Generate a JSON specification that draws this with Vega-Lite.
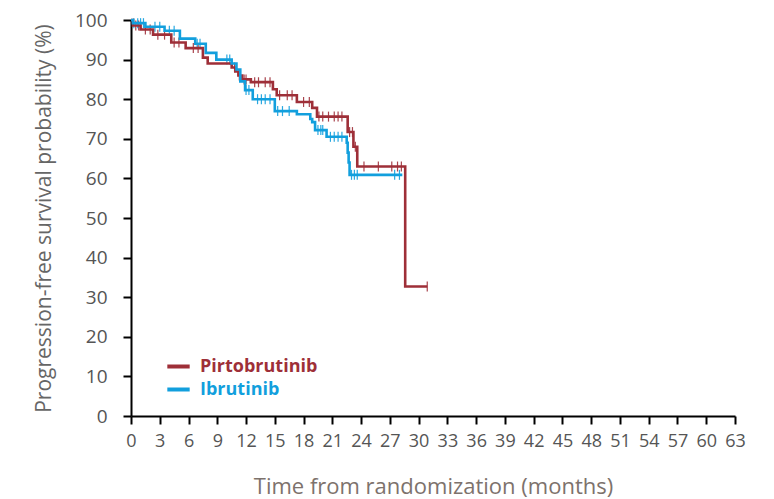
{
  "$schema": "https://vega.github.io/schema/vega-lite/v6.json",
  "width": 604,
  "height": 396,
  "autosize": "none",
  "padding": {"left": 131, "top": 20, "right": 39, "bottom": 83},
  "background": "white",
  "config": {
    "view": {"stroke": null},
    "font": "Open Sans",
    "axis": {"grid": false, "domainColor": "#000", "domainWidth": 2, "tickColor": "#000", "tickWidth": 2, "tickSize": 8, "labelColor": "#555", "labelFont": "Open Sans", "titleFont": "Open Sans", "titleFontWeight": "normal"}
  },
  "datasets": {
    "curves": [
      {"t": 0, "s": 100, "g": "Pirtobrutinib"},
      {"t": 0.2, "s": 98.6, "g": "Pirtobrutinib"},
      {"t": 1.0, "s": 97.6, "g": "Pirtobrutinib"},
      {"t": 2.3, "s": 96.3, "g": "Pirtobrutinib"},
      {"t": 4.2, "s": 94.3, "g": "Pirtobrutinib"},
      {"t": 5.7, "s": 92.9, "g": "Pirtobrutinib"},
      {"t": 7.5, "s": 90.5, "g": "Pirtobrutinib"},
      {"t": 8.0, "s": 89.0, "g": "Pirtobrutinib"},
      {"t": 10.5, "s": 88.0, "g": "Pirtobrutinib"},
      {"t": 10.9, "s": 87.0, "g": "Pirtobrutinib"},
      {"t": 11.2, "s": 86.0, "g": "Pirtobrutinib"},
      {"t": 11.6, "s": 85.0, "g": "Pirtobrutinib"},
      {"t": 12.5, "s": 84.3, "g": "Pirtobrutinib"},
      {"t": 14.8, "s": 82.5, "g": "Pirtobrutinib"},
      {"t": 15.2, "s": 81.0, "g": "Pirtobrutinib"},
      {"t": 17.3, "s": 79.3, "g": "Pirtobrutinib"},
      {"t": 18.9, "s": 77.8, "g": "Pirtobrutinib"},
      {"t": 19.4, "s": 75.6, "g": "Pirtobrutinib"},
      {"t": 22.6, "s": 71.7, "g": "Pirtobrutinib"},
      {"t": 23.2, "s": 68.0, "g": "Pirtobrutinib"},
      {"t": 23.6, "s": 63.0, "g": "Pirtobrutinib"},
      {"t": 28.6, "s": 32.7, "g": "Pirtobrutinib"},
      {"t": 30.9, "s": 32.7, "g": "Pirtobrutinib"},
      {"t": 0, "s": 100, "g": "Ibrutinib"},
      {"t": 0.2, "s": 99.2, "g": "Ibrutinib"},
      {"t": 1.5, "s": 98.3, "g": "Ibrutinib"},
      {"t": 3.5, "s": 97.3, "g": "Ibrutinib"},
      {"t": 5.1, "s": 95.3, "g": "Ibrutinib"},
      {"t": 6.7, "s": 94.0, "g": "Ibrutinib"},
      {"t": 7.8, "s": 91.7, "g": "Ibrutinib"},
      {"t": 8.9, "s": 90.0, "g": "Ibrutinib"},
      {"t": 10.5, "s": 89.0, "g": "Ibrutinib"},
      {"t": 11.0, "s": 87.5, "g": "Ibrutinib"},
      {"t": 11.4, "s": 84.5, "g": "Ibrutinib"},
      {"t": 11.9, "s": 82.3, "g": "Ibrutinib"},
      {"t": 12.7, "s": 80.0, "g": "Ibrutinib"},
      {"t": 15.0, "s": 77.0, "g": "Ibrutinib"},
      {"t": 17.3, "s": 76.2, "g": "Ibrutinib"},
      {"t": 18.7, "s": 75.0, "g": "Ibrutinib"},
      {"t": 18.9, "s": 74.2, "g": "Ibrutinib"},
      {"t": 19.2, "s": 72.2, "g": "Ibrutinib"},
      {"t": 20.4, "s": 70.5, "g": "Ibrutinib"},
      {"t": 22.5, "s": 69.0, "g": "Ibrutinib"},
      {"t": 22.6, "s": 66.5, "g": "Ibrutinib"},
      {"t": 22.7, "s": 64.0, "g": "Ibrutinib"},
      {"t": 22.8, "s": 60.9, "g": "Ibrutinib"},
      {"t": 28.3, "s": 60.9, "g": "Ibrutinib"}
    ],
    "censors": [
      {"t": 0.5, "s": 98.6, "g": "Pirtobrutinib"},
      {"t": 0.8, "s": 98.6, "g": "Pirtobrutinib"},
      {"t": 1.5, "s": 97.6, "g": "Pirtobrutinib"},
      {"t": 2.0, "s": 97.6, "g": "Pirtobrutinib"},
      {"t": 2.8, "s": 96.3, "g": "Pirtobrutinib"},
      {"t": 3.5, "s": 96.3, "g": "Pirtobrutinib"},
      {"t": 4.5, "s": 94.3, "g": "Pirtobrutinib"},
      {"t": 5.0, "s": 94.3, "g": "Pirtobrutinib"},
      {"t": 6.5, "s": 92.9, "g": "Pirtobrutinib"},
      {"t": 7.0, "s": 92.9, "g": "Pirtobrutinib"},
      {"t": 10.8, "s": 88.0, "g": "Pirtobrutinib"},
      {"t": 11.3, "s": 86.0, "g": "Pirtobrutinib"},
      {"t": 11.8, "s": 85.0, "g": "Pirtobrutinib"},
      {"t": 12.0, "s": 85.0, "g": "Pirtobrutinib"},
      {"t": 12.9, "s": 84.3, "g": "Pirtobrutinib"},
      {"t": 13.3, "s": 84.3, "g": "Pirtobrutinib"},
      {"t": 14.0, "s": 84.3, "g": "Pirtobrutinib"},
      {"t": 14.5, "s": 84.3, "g": "Pirtobrutinib"},
      {"t": 15.5, "s": 81.0, "g": "Pirtobrutinib"},
      {"t": 16.3, "s": 81.0, "g": "Pirtobrutinib"},
      {"t": 16.8, "s": 81.0, "g": "Pirtobrutinib"},
      {"t": 18.0, "s": 79.3, "g": "Pirtobrutinib"},
      {"t": 18.6, "s": 79.3, "g": "Pirtobrutinib"},
      {"t": 19.6, "s": 75.6, "g": "Pirtobrutinib"},
      {"t": 20.0, "s": 75.6, "g": "Pirtobrutinib"},
      {"t": 20.6, "s": 75.6, "g": "Pirtobrutinib"},
      {"t": 21.2, "s": 75.6, "g": "Pirtobrutinib"},
      {"t": 21.6, "s": 75.6, "g": "Pirtobrutinib"},
      {"t": 22.0, "s": 75.6, "g": "Pirtobrutinib"},
      {"t": 22.8, "s": 71.7, "g": "Pirtobrutinib"},
      {"t": 23.1, "s": 71.7, "g": "Pirtobrutinib"},
      {"t": 23.4, "s": 68.0, "g": "Pirtobrutinib"},
      {"t": 24.3, "s": 63.0, "g": "Pirtobrutinib"},
      {"t": 25.8, "s": 63.0, "g": "Pirtobrutinib"},
      {"t": 27.2, "s": 63.0, "g": "Pirtobrutinib"},
      {"t": 27.8, "s": 63.0, "g": "Pirtobrutinib"},
      {"t": 28.2, "s": 63.0, "g": "Pirtobrutinib"},
      {"t": 30.9, "s": 32.7, "g": "Pirtobrutinib"},
      {"t": 0.3, "s": 99.2, "g": "Ibrutinib"},
      {"t": 0.7, "s": 99.2, "g": "Ibrutinib"},
      {"t": 1.0, "s": 99.2, "g": "Ibrutinib"},
      {"t": 1.3, "s": 99.2, "g": "Ibrutinib"},
      {"t": 2.5, "s": 98.3, "g": "Ibrutinib"},
      {"t": 3.0, "s": 98.3, "g": "Ibrutinib"},
      {"t": 4.0, "s": 97.3, "g": "Ibrutinib"},
      {"t": 4.5, "s": 97.3, "g": "Ibrutinib"},
      {"t": 6.9, "s": 94.0, "g": "Ibrutinib"},
      {"t": 7.2, "s": 94.0, "g": "Ibrutinib"},
      {"t": 10.0, "s": 90.0, "g": "Ibrutinib"},
      {"t": 10.3, "s": 90.0, "g": "Ibrutinib"},
      {"t": 12.0, "s": 82.3, "g": "Ibrutinib"},
      {"t": 12.3, "s": 82.3, "g": "Ibrutinib"},
      {"t": 13.2, "s": 80.0, "g": "Ibrutinib"},
      {"t": 13.6, "s": 80.0, "g": "Ibrutinib"},
      {"t": 14.0, "s": 80.0, "g": "Ibrutinib"},
      {"t": 14.5, "s": 80.0, "g": "Ibrutinib"},
      {"t": 15.3, "s": 77.0, "g": "Ibrutinib"},
      {"t": 15.8, "s": 77.0, "g": "Ibrutinib"},
      {"t": 16.5, "s": 77.0, "g": "Ibrutinib"},
      {"t": 19.5, "s": 72.2, "g": "Ibrutinib"},
      {"t": 19.8, "s": 72.2, "g": "Ibrutinib"},
      {"t": 20.0, "s": 72.2, "g": "Ibrutinib"},
      {"t": 20.8, "s": 70.5, "g": "Ibrutinib"},
      {"t": 21.2, "s": 70.5, "g": "Ibrutinib"},
      {"t": 21.6, "s": 70.5, "g": "Ibrutinib"},
      {"t": 22.0, "s": 70.5, "g": "Ibrutinib"},
      {"t": 23.0, "s": 60.9, "g": "Ibrutinib"},
      {"t": 23.3, "s": 60.9, "g": "Ibrutinib"},
      {"t": 23.6, "s": 60.9, "g": "Ibrutinib"},
      {"t": 27.5, "s": 60.9, "g": "Ibrutinib"},
      {"t": 28.0, "s": 60.9, "g": "Ibrutinib"}
    ]
  },
  "encoding": {
    "x": {"field": "t", "type": "quantitative", "scale": {"domain": [0, 63], "nice": false},
      "axis": {"values": [0,3,6,9,12,15,18,21,24,27,30,33,36,39,42,45,48,51,54,57,60,63], "labelOverlap": false, "labelFontSize": 18, "labelPadding": 8, "labelFlush": false,
        "title": "Time from randomization (months)", "titleFontSize": 22, "titleColor": "#7d726c", "titlePadding": 26}},
    "y": {"field": "s", "type": "quantitative", "scale": {"domain": [0, 100], "nice": false},
      "axis": {"values": [0,10,20,30,40,50,60,70,80,90,100], "labelFontSize": 19, "labelPadding": 16,
        "title": "Progression-free survival probability (%)", "titleFontSize": 21, "titleColor": "#666", "titlePadding": 20}},
    "color": {"field": "g", "type": "nominal",
      "scale": {"domain": ["Pirtobrutinib", "Ibrutinib"], "range": ["#9e2f38", "#129fdd"]},
      "legend": {"title": null, "orient": "none", "legendX": 34, "legendY": 333, "symbolType": "stroke", "symbolStrokeWidth": 4, "symbolSize": 500, "labelFontSize": 18, "labelFontWeight": "bold", "labelFont": "Open Sans", "rowPadding": 0, "labelOffset": 8,
        "encode": {"labels": {"update": {"fill": {"signal": "datum.value === 'Pirtobrutinib' ? '#9e2f38' : '#129fdd'"}}}}}}
  },
  "layer": [
    {
      "data": {"name": "censors"},
      "mark": {"type": "tick", "orient": "vertical", "size": 10, "thickness": 1.2, "opacity": 0.9}
    },
    {
      "data": {"name": "curves"},
      "mark": {"type": "line", "interpolate": "step-after", "strokeWidth": 2.6}
    }
  ]
}
